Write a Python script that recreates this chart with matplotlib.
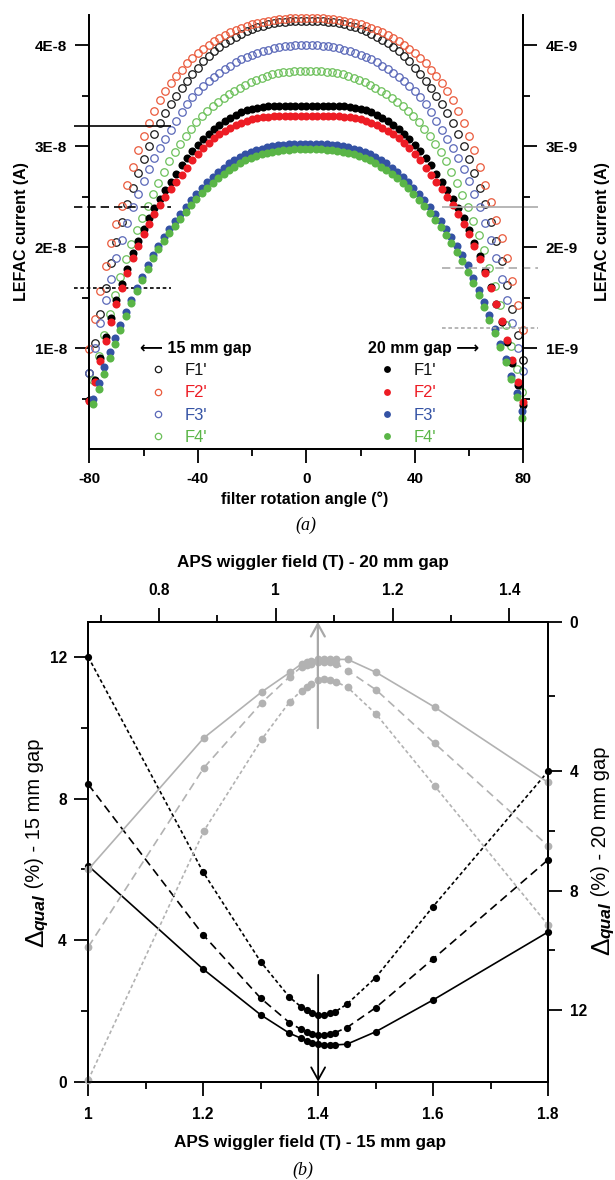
import numpy as np
import matplotlib
matplotlib.use("Agg")
import matplotlib.pyplot as plt
from matplotlib.ticker import FixedLocator, FuncFormatter
from matplotlib.transforms import IdentityTransform

plt.rcParams["font.family"] = ["Liberation Sans", "DejaVu Sans"]
plt.rcParams["font.weight"] = "bold"
plt.rcParams["axes.labelweight"] = "bold"
plt.rcParams["axes.unicode_minus"] = False
plt.rcParams["axes.linewidth"] = 1.3

# ---------------------------------------------------------------------------
# (a) LEFAC current versus filter rotation angle
# ---------------------------------------------------------------------------
angle_a = np.arange(-80, 81, 2)        # deg, F1'/F2'/F3' (15 mm) and F1'/F2' (20 mm) scans
angle_b = np.arange(-78.5, 80, 2)      # deg, F4' (15 mm) and F3'/F4' (20 mm) scans

# 15 mm gap, in units of 1E-8 A
open_f1 = [0.76, 1.05, 1.34, 1.60, 1.84, 2.05, 2.25, 2.43, 2.59, 2.74,
           2.87, 3.00, 3.12, 3.23, 3.33, 3.42, 3.50, 3.58, 3.65, 3.72,
           3.78, 3.84, 3.89, 3.94, 3.98, 4.02, 4.05, 4.08, 4.11, 4.14,
           4.16, 4.18, 4.195, 4.21, 4.22, 4.23, 4.235, 4.24, 4.24, 4.24,
           4.24, 4.24, 4.24, 4.24, 4.235, 4.23, 4.22, 4.21, 4.195, 4.18,
           4.16, 4.14, 4.11, 4.08, 4.05, 4.02, 3.98, 3.94, 3.89, 3.84,
           3.78, 3.72, 3.65, 3.58, 3.50, 3.42, 3.33, 3.23, 3.12, 3.00,
           2.87, 2.74, 2.59, 2.43, 2.25, 2.06, 1.86, 1.63, 1.39, 1.13,
           0.88]
open_f2 = [0.99, 1.29, 1.57, 1.81, 2.04, 2.23, 2.41, 2.62, 2.80, 2.96,
           3.10, 3.23, 3.35, 3.46, 3.55, 3.63, 3.70, 3.76, 3.82, 3.87,
           3.92, 3.96, 4.00, 4.04, 4.07, 4.10, 4.13, 4.155, 4.175, 4.195,
           4.21, 4.225, 4.235, 4.245, 4.255, 4.26, 4.265, 4.27, 4.27, 4.27,
           4.27, 4.27, 4.27, 4.27, 4.265, 4.26, 4.255, 4.245, 4.235, 4.225,
           4.21, 4.195, 4.175, 4.155, 4.13, 4.10, 4.07, 4.04, 4.00, 3.96,
           3.92, 3.87, 3.82, 3.76, 3.70, 3.63, 3.55, 3.46, 3.35, 3.23,
           3.10, 2.96, 2.80, 2.62, 2.45, 2.27, 2.09, 1.89, 1.67, 1.43,
           1.18]
open_f3 = [0.76, 1.00, 1.25, 1.48, 1.69, 1.89, 2.07, 2.24, 2.40, 2.53,
           2.66, 2.78, 2.88, 2.98, 3.07, 3.16, 3.25, 3.34, 3.42, 3.49,
           3.55, 3.60, 3.65, 3.69, 3.73, 3.77, 3.80, 3.83, 3.86, 3.88,
           3.90, 3.92, 3.94, 3.955, 3.97, 3.98, 3.99, 3.995, 4.00, 4.00,
           4.00, 4.00, 4.00, 3.995, 3.99, 3.98, 3.97, 3.955, 3.94, 3.92,
           3.90, 3.88, 3.86, 3.83, 3.80, 3.77, 3.73, 3.69, 3.65, 3.60,
           3.55, 3.49, 3.42, 3.34, 3.25, 3.16, 3.07, 2.98, 2.88, 2.78,
           2.66, 2.53, 2.40, 2.24, 2.07, 1.89, 1.69, 1.48, 1.25, 1.00,
           0.78]
open_f4 = [0.69, 0.92, 1.13, 1.34, 1.53, 1.71, 1.88, 2.03, 2.17, 2.29,
           2.41, 2.53, 2.64, 2.75, 2.85, 2.94, 3.02, 3.10, 3.17, 3.24,
           3.30, 3.35, 3.40, 3.44, 3.48, 3.52, 3.55, 3.58, 3.61, 3.635,
           3.66, 3.68, 3.70, 3.715, 3.725, 3.735, 3.74, 3.745, 3.75, 3.75,
           3.75, 3.75, 3.745, 3.74, 3.735, 3.725, 3.715, 3.70, 3.68, 3.66,
           3.635, 3.61, 3.58, 3.55, 3.52, 3.48, 3.44, 3.40, 3.35, 3.30,
           3.24, 3.17, 3.10, 3.02, 2.94, 2.85, 2.75, 2.64, 2.52, 2.40,
           2.26, 2.12, 1.97, 1.80, 1.62, 1.43, 1.23, 1.02, 0.80, 0.57]

# 20 mm gap, in units of 1E-9 A
fill_f1 = [0.49, 0.69, 0.90, 1.11, 1.30, 1.48, 1.64, 1.79, 1.94, 2.06,
           2.18, 2.29, 2.39, 2.48, 2.57, 2.65, 2.73, 2.81, 2.88, 2.95,
           3.01, 3.07, 3.12, 3.17, 3.21, 3.25, 3.28, 3.31, 3.335, 3.355,
           3.37, 3.38, 3.39, 3.395, 3.40, 3.40, 3.40, 3.40, 3.40, 3.40,
           3.40, 3.40, 3.40, 3.40, 3.40, 3.40, 3.40, 3.395, 3.39, 3.38,
           3.37, 3.355, 3.335, 3.31, 3.28, 3.25, 3.21, 3.17, 3.12, 3.07,
           3.01, 2.95, 2.88, 2.81, 2.73, 2.65, 2.57, 2.48, 2.39, 2.29,
           2.17, 2.04, 1.91, 1.77, 1.61, 1.44, 1.26, 1.06, 0.85, 0.64,
           0.44]
fill_f2 = [0.48, 0.67, 0.87, 1.07, 1.26, 1.44, 1.60, 1.75, 1.89, 2.01,
           2.13, 2.23, 2.33, 2.42, 2.50, 2.58, 2.65, 2.72, 2.79, 2.86,
           2.92, 2.98, 3.03, 3.08, 3.12, 3.155, 3.185, 3.21, 3.235, 3.255,
           3.27, 3.28, 3.29, 3.295, 3.30, 3.30, 3.30, 3.30, 3.30, 3.30,
           3.30, 3.30, 3.30, 3.30, 3.30, 3.30, 3.30, 3.295, 3.29, 3.28,
           3.27, 3.255, 3.235, 3.21, 3.185, 3.155, 3.12, 3.08, 3.03, 2.98,
           2.92, 2.86, 2.79, 2.72, 2.65, 2.58, 2.50, 2.42, 2.33, 2.23,
           2.13, 2.01, 1.88, 1.75, 1.60, 1.44, 1.27, 1.08, 0.88, 0.67,
           0.47]
fill_f3 = [0.50, 0.66, 0.81, 0.96, 1.10, 1.23, 1.36, 1.48, 1.60, 1.71,
           1.82, 1.92, 2.01, 2.10, 2.18, 2.26, 2.33, 2.40, 2.47, 2.53,
           2.59, 2.65, 2.70, 2.75, 2.79, 2.83, 2.86, 2.89, 2.92, 2.94,
           2.96, 2.975, 2.99, 3.00, 3.01, 3.015, 3.02, 3.02, 3.02, 3.02,
           3.02, 3.02, 3.02, 3.02, 3.015, 3.01, 3.00, 2.99, 2.975, 2.96,
           2.94, 2.92, 2.89, 2.86, 2.83, 2.79, 2.75, 2.70, 2.65, 2.59,
           2.53, 2.47, 2.40, 2.33, 2.26, 2.18, 2.10, 2.01, 1.92, 1.82,
           1.70, 1.58, 1.46, 1.33, 1.19, 1.04, 0.89, 0.73, 0.56, 0.38]
fill_f4 = [0.445, 0.60, 0.75, 0.90, 1.04, 1.18, 1.32, 1.45, 1.57, 1.68,
           1.79, 1.89, 1.98, 2.06, 2.14, 2.21, 2.28, 2.35, 2.42, 2.48,
           2.54, 2.59, 2.64, 2.69, 2.73, 2.77, 2.80, 2.83, 2.86, 2.88,
           2.90, 2.92, 2.935, 2.945, 2.955, 2.96, 2.965, 2.97, 2.97, 2.97,
           2.97, 2.97, 2.97, 2.965, 2.96, 2.955, 2.945, 2.935, 2.92, 2.90,
           2.88, 2.86, 2.83, 2.80, 2.77, 2.73, 2.69, 2.64, 2.59, 2.53,
           2.47, 2.41, 2.34, 2.27, 2.20, 2.12, 2.04, 1.95, 1.86, 1.76,
           1.65, 1.53, 1.41, 1.28, 1.15, 1.01, 0.86, 0.70, 0.52, 0.31]

filter_names = ["F1'", "F2'", "F3'", "F4'"]
ref_15 = [3.2e-8, 2.4e-8, 1.6e-8]     # left-hand reference levels
ref_20 = [2.4e-9, 1.8e-9, 1.2e-9]     # right-hand reference levels

# ---------------------------------------------------------------------------
# (b) quality deviation versus APS wiggler field
# ---------------------------------------------------------------------------
field_15 = [1.0, 1.2, 1.3, 1.35, 1.37, 1.38, 1.39, 1.40, 1.41, 1.42, 1.43, 1.45, 1.5, 1.6, 1.8]
dq15_solid = [6.10, 3.18, 1.89, 1.37, 1.23, 1.16, 1.10, 1.07, 1.04, 1.04, 1.04, 1.06, 1.41, 2.31, 4.23]
dq15_dash = [8.40, 4.15, 2.36, 1.67, 1.48, 1.41, 1.35, 1.32, 1.32, 1.35, 1.39, 1.53, 2.09, 3.47, 6.27]
dq15_dot = [12.0, 5.92, 3.39, 2.39, 2.12, 2.03, 1.93, 1.89, 1.89, 1.93, 1.98, 2.19, 2.94, 4.95, 8.77]

field_20 = [0.679, 0.877, 0.976, 1.024, 1.044, 1.053, 1.061, 1.072, 1.082, 1.092, 1.103, 1.123, 1.172, 1.272, 1.466]
dq20_solid = [7.29, 3.11, 1.88, 1.36, 1.13, 1.08, 1.04, 1.01, 1.00, 1.00, 1.01, 1.01, 1.36, 2.29, 4.38]
dq20_dash = [9.88, 3.91, 2.17, 1.47, 1.21, 1.16, 1.12, 1.09, 1.08, 1.09, 1.12, 1.31, 1.83, 3.26, 6.50]
dq20_dot = [14.33, 6.00, 3.15, 2.14, 1.85, 1.74, 1.67, 1.56, 1.54, 1.56, 1.61, 1.76, 2.48, 4.50, 9.15]

best_15 = 1.40     # optimum field, 15 mm gap
best_20 = 1.072    # optimum field, 20 mm gap

# ---------------------------------------------------------------------------
W, H = 615, 1180
fig = plt.figure(figsize=(W / 100, H / 100), dpi=100)
PX = IdentityTransform()


def axes_px(left, top, right, bottom):
    return fig.add_axes([left / W, 1 - bottom / H, (right - left) / W, (bottom - top) / H])


def text_px(x, y, s, **kw):
    return fig.text(x, H - y, s, transform=PX, **kw)


def style_ticks(ax, labelsize=11, pad=6):
    ax.tick_params(which="both", direction="out", width=1.3, labelsize=labelsize, pad=pad)
    ax.tick_params(which="major", length=10)
    ax.tick_params(which="minor", length=5)


gfmt = FuncFormatter(lambda v, p: f"{v:g}")

# ---------------- panel (a) ----------------
axa = axes_px(89.3, 15, 523.3, 449.3)
axr = axa.twinx()

label_colors = ["#111111", "#ed1c24", "#3452a4", "#5ab547"]
open_colors = ["#1a1a1a", "#ea5a3c", "#5a68b8", "#6cc05a"]
fill_colors = ["#000000", "#ed1c24", "#3452a4", "#5ab547"]

open_sets = [(angle_a, open_f1), (angle_a, open_f2), (angle_a, open_f3), (angle_b, open_f4)]
fill_sets = [(angle_a, fill_f1), (angle_a, fill_f2), (angle_b, fill_f3), (angle_b, fill_f4)]

h_open = []
for (x, v), c in zip(open_sets, open_colors):
    h, = axa.plot(x, np.asarray(v) * 1e-8, ls="none", marker="o", ms=5.4,
                  mfc="none", mec=c, mew=0.9, clip_on=False)
    h_open.append(h)
h_fill = []
for (x, v), c in zip(fill_sets, fill_colors):
    h, = axr.plot(x, np.asarray(v) * 1e-9, ls="none", marker="o", ms=5.8,
                  mfc=c, mec=c, mew=0, clip_on=False)
    h_fill.append(h)

line_styles = ["-", (0, (5, 3)), (0, (2.2, 1.6))]
for lvl, ls in zip(ref_15, line_styles):
    axa.hlines(lvl, -85.5, -50, colors="k", lw=1.2, linestyles=ls, clip_on=False)
for lvl, ls in zip(ref_20, line_styles):
    axr.hlines(lvl, 50, 85.5, colors="#aaaaaa", lw=1.2, linestyles=ls, clip_on=False)

leg_kw = dict(frameon=False, loc="upper left", alignment="left", handlelength=2.2,
              handletextpad=0.5, labelspacing=0.43, borderpad=0, borderaxespad=0,
              markerscale=0.85, prop={"size": 12, "weight": "normal"},
              title_fontproperties={"size": 11.5, "weight": "bold"},
              labelcolor=label_colors)
axa.legend(h_open, filter_names, title="\u27f5 15 mm gap", bbox_to_anchor=(0.117, 0.249), **leg_kw)
axr.legend(h_fill, filter_names, title="20 mm gap \u27f6", bbox_to_anchor=(0.643, 0.249), **leg_kw)

for ax in (axa, axr):
    ax.spines["top"].set_visible(False)
    style_ticks(ax)
axa.set_xlim(-80, 80)
axa.set_ylim(0, 4.3e-8)
axr.set_ylim(0, 4.3e-9)
axa.xaxis.set_major_locator(FixedLocator([-80, -40, 0, 40, 80]))
axa.xaxis.set_minor_locator(FixedLocator([-60, -20, 20, 60]))
axa.xaxis.set_major_formatter(gfmt)
axa.yaxis.set_major_locator(FixedLocator([1e-8, 2e-8, 3e-8, 4e-8]))
axa.yaxis.set_minor_locator(FixedLocator([0.5e-8, 1.5e-8, 2.5e-8, 3.5e-8]))
axa.yaxis.set_major_formatter(FuncFormatter(lambda v, p: f"{round(v * 1e8):d}E-8"))
axr.yaxis.set_major_locator(FixedLocator([1e-9, 2e-9, 3e-9, 4e-9]))
axr.yaxis.set_minor_locator(FixedLocator([0.5e-9, 1.5e-9, 2.5e-9, 3.5e-9]))
axr.yaxis.set_major_formatter(FuncFormatter(lambda v, p: f"{round(v * 1e9):d}E-9"))

text_px(22, 232, "LEFAC current (A)", rotation=90, ha="center", va="center", fontsize=11.5)
text_px(603, 232, "LEFAC current (A)", rotation=90, ha="center", va="center", fontsize=11.5)
text_px(305, 499, "filter rotation angle (\u00b0)", ha="center", va="center", fontsize=11.5)
text_px(306, 525, "(a)", ha="center", va="center", fontsize=13, fontweight="normal",
        fontstyle="italic", family="Liberation Serif")

# ---------------- panel (b) ----------------
axb = axes_px(88.3, 621.7, 548, 1081.7)
axb_r = axb.twinx()

# right-hand scale of the 20 mm gap axis (piecewise linear, increasing downwards)
R_V = [0.0, 4.0, 40.0]
R_U = [0.0, 149.3, 149.3 + 36 * 29.9]


def r_fwd(v):
    return np.interp(np.asarray(v, dtype=float), R_V, R_U)


def r_inv(u):
    return np.interp(np.asarray(u, dtype=float), R_U, R_V)


axb_r.set_yscale("function", functions=(r_fwd, r_inv))
axb_r.set_ylim(14.39, 0)
axb_t = axb_r.twiny()

lw = 1.2
black_sets = [(dq15_solid, "-"), (dq15_dash, (0, (5, 3))), (dq15_dot, (0, (2.2, 1.6)))]
for v, ls in black_sets:
    axb.plot(field_15, v, color="k", lw=lw, ls=ls, marker="o", ms=5.2, mew=0, clip_on=False)
grey = "#b2b2b2"
grey_sets = [(dq20_solid, "-"), (dq20_dash, (0, (5, 3))), (dq20_dot, (0, (2.2, 1.6)))]
for v, ls in grey_sets:
    axb_t.plot(field_20, v, color=grey, lw=lw, ls=ls, marker="o", ms=5.6, mew=0, clip_on=False)

axb.annotate("", xy=(best_15, 0), xytext=(best_15, 3.02), annotation_clip=False,
             arrowprops=dict(arrowstyle="->,head_length=0.9,head_width=0.5", lw=1.3,
                             color="k", shrinkA=0, shrinkB=0, mutation_scale=10))
axb_t.annotate("", xy=(best_20, 0), xytext=(best_20, 2.85), annotation_clip=False,
               arrowprops=dict(arrowstyle="->,head_length=0.9,head_width=0.5", lw=1.6,
                               color="#a8a8a8", shrinkA=0, shrinkB=0, mutation_scale=10))

axb.set_xlim(1.0, 1.8)
axb.set_ylim(0, 13)
axb_t.set_xlim(0.679, 1.466)
axb.xaxis.set_major_locator(FixedLocator([1.0, 1.2, 1.4, 1.6, 1.8]))
axb.xaxis.set_minor_locator(FixedLocator([1.1, 1.3, 1.5, 1.7]))
axb.xaxis.set_major_formatter(gfmt)
axb.yaxis.set_major_locator(FixedLocator([0, 4, 8, 12]))
axb.yaxis.set_minor_locator(FixedLocator([2, 6, 10]))
axb.yaxis.set_major_formatter(gfmt)
axb_r.yaxis.set_major_locator(FixedLocator([0, 4, 8, 12]))
axb_r.yaxis.set_minor_locator(FixedLocator([2, 6, 10]))
axb_r.yaxis.set_major_formatter(gfmt)
axb_t.xaxis.set_major_locator(FixedLocator([0.8, 1.0, 1.2, 1.4]))
axb_t.xaxis.set_minor_locator(FixedLocator([0.7, 0.9, 1.1, 1.3]))
axb_t.xaxis.set_major_formatter(gfmt)
style_ticks(axb, labelsize=11.2, pad=5.5)
style_ticks(axb_r, labelsize=11.2, pad=5.5)
style_ticks(axb_t, labelsize=11.2, pad=7)
axb.tick_params(axis="x", pad=8.5)

text_px(313, 563, "APS wiggler field (T) - 20 mm gap", ha="center", va="center", fontsize=12.3)
text_px(310, 1143, "APS wiggler field (T) - 15 mm gap", ha="center", va="center", fontsize=12.3)
text_px(303, 1170, "(b)", ha="center", va="center", fontsize=13, fontweight="normal",
        fontstyle="italic", family="Liberation Serif")


def delta_label(x_base, y_bottom, tail):
    """Vertical axis title built from a large Delta, a bold-italic subscript and plain text."""
    rend = fig.canvas.get_renderer()
    y = H - y_bottom
    parts = [("\u0394", 19, "normal", "normal", 0),
             ("qual", 12.5, "italic", "bold", 2),
             (tail, 14.5, "normal", "normal", -3)]
    for s, size, style, weight, dx in parts:
        t = fig.text(x_base + dx, y, s, transform=PX, rotation=90, rotation_mode="anchor",
                     ha="left", va="baseline", fontsize=size, fontstyle=style, fontweight=weight)
        y = t.get_window_extent(rend).y1


delta_label(43, 947, " (%) - 15 mm gap")
delta_label(609, 955, " (%) - 20 mm gap")

fig.savefig("out.png", dpi=100)
